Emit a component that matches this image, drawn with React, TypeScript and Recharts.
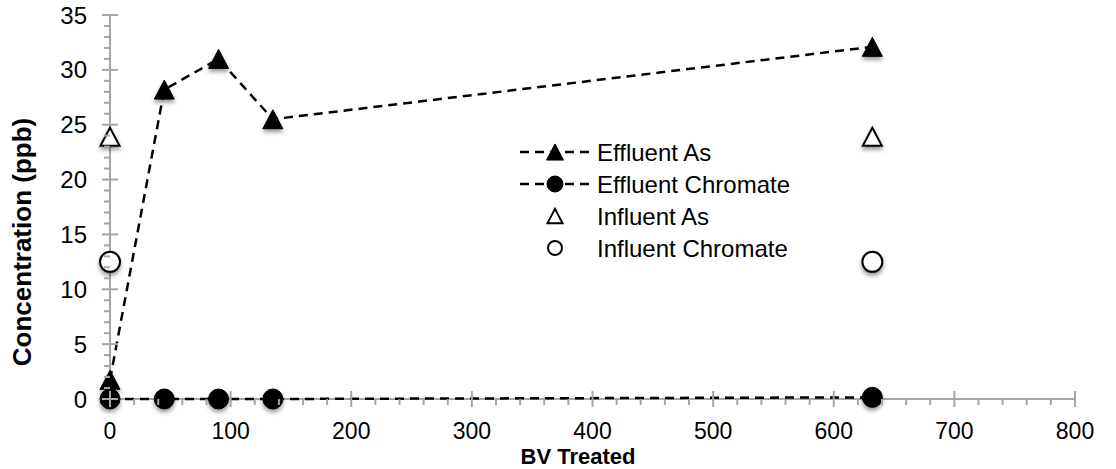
import { Scatter, ScatterChart, XAxis, YAxis } from 'recharts'

const BV_TREATED = [0, 45, 90, 135, 632]
const EFFLUENT_AS = [1.75, 28.2, 31.0, 25.5, 32.1]
const EFFLUENT_CHROMATE = [0, 0, 0, 0, 0.15]
const INFLUENT_BV = [0, 632]
const INFLUENT_AS = [23.9, 23.9]
const INFLUENT_CHROMATE = [12.5, 12.5]

const X_TICKS = Array.from({ length: 41 }, (_, i) => i * 20)
const Y_TICKS = Array.from({ length: 36 }, (_, i) => i)

const FONT = '"Liberation Sans", Arial, sans-serif'
const AXIS = '#a6a6a6'
const DASH = '9 6'

const toPoints = (xs: number[], ys: number[]) => xs.map((x, i) => ({ x, y: ys[i] }))

const effluentAs = toPoints(BV_TREATED, EFFLUENT_AS)
const effluentChromate = toPoints(BV_TREATED, EFFLUENT_CHROMATE)
const influentAs = toPoints(INFLUENT_BV, INFLUENT_AS)
const influentChromate = toPoints(INFLUENT_BV, INFLUENT_CHROMATE)

function Triangle({ cx, cy, w, filled, shadow }: any) {
  const h = w * 0.95
  const d = `M${cx},${cy - h / 2} L${cx + w / 2},${cy + h / 2} L${cx - w / 2},${cy + h / 2} Z`
  return (
    <path
      d={d}
      fill={filled ? '#000' : '#fff'}
      stroke="#000"
      strokeWidth={filled ? 1 : 2}
      filter={shadow ? 'url(#mk-shadow)' : undefined}
    />
  )
}

function Circle({ cx, cy, r, filled, shadow }: any) {
  return (
    <circle
      cx={cx}
      cy={cy}
      r={r}
      fill={filled ? '#000' : '#fff'}
      stroke="#000"
      strokeWidth={filled ? 1 : 2}
      filter={shadow ? 'url(#mk-shadow)' : undefined}
    />
  )
}

const XTick = ({ x, y, payload }: any) => {
  const major = payload.value % 100 === 0
  return (
    <g>
      <line x1={x} x2={x} y1={major ? y - 8 : y} y2={y + (major ? 8 : 6)} stroke={AXIS} strokeWidth={2} />
      {major && (
        <text x={x} y={y + 40} textAnchor="middle" fontSize={23} fontFamily={FONT} fill="#000">
          {payload.value}
        </text>
      )}
    </g>
  )
}

const YTick = ({ x, y, payload }: any) => {
  const major = payload.value % 5 === 0
  return (
    <g>
      <line x1={major ? x - 8 : x - 6} x2={major ? x + 8 : x} y1={y} y2={y} stroke={AXIS} strokeWidth={2} />
      {major && (
        <text x={x - 23} y={y} dy="0.36em" textAnchor="end" fontSize={24} fontFamily={FONT} fill="#000">
          {payload.value}
        </text>
      )}
    </g>
  )
}

const LEGEND_ITEMS = [
  { name: 'Effluent As', marker: 'triangle', filled: true, line: true },
  { name: 'Effluent Chromate', marker: 'circle', filled: true, line: true },
  { name: 'Influent As', marker: 'triangle', filled: false, line: false },
  { name: 'Influent Chromate', marker: 'circle', filled: false, line: false },
]

function LegendBox() {
  return (
    <svg width={330} height={130} style={{ position: 'absolute', left: 510, top: 135 }}>
      {LEGEND_ITEMS.map((item, i) => {
        const cy = 17 + i * 32
        return (
          <g key={item.name}>
            {item.line && (
              <line x1={10} x2={80} y1={cy} y2={cy} stroke="#000" strokeWidth={2.5} strokeDasharray="9 6" />
            )}
            {item.marker === 'triangle' ? (
              <Triangle cx={45} cy={cy} w={item.filled ? 17 : 15} filled={item.filled} />
            ) : (
              <Circle cx={45} cy={cy} r={item.filled ? 8 : 7} filled={item.filled} />
            )}
            <text x={87} y={cy} dy="0.36em" fontSize={24} fontFamily={FONT} fill="#000">
              {item.name}
            </text>
          </g>
        )
      })}
    </svg>
  )
}

export default function App() {
  return (
    <div style={{ position: 'absolute', left: 0, top: 0, width: 1116, height: 469, background: '#fff' }}>
      <svg width={0} height={0} style={{ position: 'absolute' }}>
        <defs>
          <filter id="mk-shadow" x="-50%" y="-50%" width="200%" height="220%">
            <feDropShadow dx={0} dy={3} stdDeviation={2} floodColor="#000" floodOpacity={0.4} />
          </filter>
        </defs>
      </svg>
      <ScatterChart width={1116} height={469} margin={{ top: 15, right: 41, bottom: 30, left: 50 }}>
        <XAxis
          type="number"
          dataKey="x"
          domain={[0, 800]}
          ticks={X_TICKS}
          interval={0}
          tickSize={0}
          tickMargin={0}
          tickLine={false}
          height={40}
          axisLine={{ stroke: AXIS, strokeWidth: 2 }}
          tick={<XTick />}
          label={{
            content: () => (
              <text x={578} y={464} textAnchor="middle" fontSize={22} fontWeight="bold" fontFamily={FONT} fill="#000">
                BV Treated
              </text>
            ),
          }}
        />
        <YAxis
          type="number"
          dataKey="y"
          domain={[0, 35]}
          ticks={Y_TICKS}
          interval={0}
          tickSize={0}
          tickMargin={0}
          tickLine={false}
          width={60}
          axisLine={{ stroke: AXIS, strokeWidth: 2 }}
          tick={<YTick />}
          label={{
            content: () => (
              <text
                x={22}
                y={242}
                dy="0.36em"
                transform="rotate(-90, 22, 242)"
                textAnchor="middle"
                fontSize={26}
                fontWeight="bold"
                fontFamily={FONT}
                fill="#000"
              >
                Concentration (ppb)
              </text>
            ),
          }}
        />
        <Scatter
          name="Effluent Chromate"
          data={effluentChromate}
          fill="#000"
          line={{ stroke: '#000', strokeWidth: 2.5, strokeDasharray: DASH }}
          lineType="joint"
          isAnimationActive={false}
          shape={(p: any) => <Circle cx={p.cx} cy={p.cy} r={10} filled shadow />}
        />
        <Scatter
          name="Effluent As"
          data={effluentAs}
          fill="#000"
          line={{ stroke: '#000', strokeWidth: 2.5, strokeDasharray: DASH }}
          lineType="joint"
          isAnimationActive={false}
          shape={(p: any) => <Triangle cx={p.cx} cy={p.cy} w={20} filled shadow />}
        />
        <Scatter
          name="Influent As"
          data={influentAs}
          fill="#fff"
          isAnimationActive={false}
          shape={(p: any) => <Triangle cx={p.cx} cy={p.cy} w={19} shadow />}
        />
        <Scatter
          name="Influent Chromate"
          data={influentChromate}
          fill="#fff"
          isAnimationActive={false}
          shape={(p: any) => <Circle cx={p.cx} cy={p.cy} r={10} shadow />}
        />
      </ScatterChart>
      <LegendBox />
    </div>
  )
}
